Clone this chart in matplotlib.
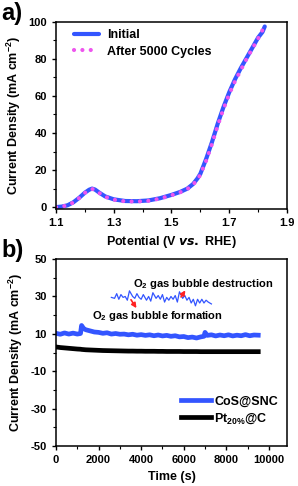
import matplotlib
matplotlib.use("Agg")
import matplotlib.pyplot as plt

plt.rcParams['font.family'] = ['Liberation Sans', 'DejaVu Sans']
plt.rcParams['font.weight'] = 'bold'
plt.rcParams['mathtext.default'] = 'regular'

# panel a: LSV curves
potential = [1.10, 1.12, 1.14, 1.16, 1.18, 1.20, 1.215, 1.225, 1.235, 1.25, 1.27, 1.30,
             1.34, 1.38, 1.42, 1.46, 1.50, 1.53, 1.555, 1.575, 1.59, 1.60, 1.62, 1.64,
             1.66, 1.68, 1.70, 1.72, 1.74, 1.76, 1.78, 1.80, 1.815, 1.823]
initial = [0.0, 0.3, 1.0, 2.6, 5.0, 7.8, 9.4, 10.0, 9.5, 7.8, 5.8, 4.2,
           3.3, 3.2, 3.6, 4.8, 6.6, 8.2, 10.0, 12.5, 15.5, 18.0, 26.0, 35.0,
           45.0, 54.0, 62.0, 69.0, 75.0, 80.5, 86.0, 91.5, 94.5, 97.5]
after_5000 = [0.0, 0.3, 1.0, 2.5, 4.9, 7.7, 9.2, 9.8, 9.3, 7.6, 5.6, 4.0,
              3.1, 3.0, 3.4, 4.6, 6.4, 8.0, 9.8, 12.2, 15.0, 17.5, 25.0, 34.0,
              44.0, 53.0, 61.0, 68.0, 74.0, 80.0, 85.5, 91.0, 95.5, 96.5]

# panel b: chronoamperometry
time_s = [0, 200, 400, 600, 800, 1000, 1150, 1200, 1300, 1400, 1600, 1800, 2000,
          2200, 2400, 2600, 2800, 3000, 3200, 3400, 3600, 3800, 4000, 4200, 4400,
          4600, 4800, 5000, 5200, 5400, 5600, 5800, 6000, 6200, 6400, 6600, 6800,
          6950, 7000, 7100, 7300, 7500, 7700, 7900, 8100, 8300, 8500, 8700, 8900,
          9100, 9300, 9500]
cos_snc = [10.3, 9.8, 10.5, 9.9, 10.4, 9.9, 10.2, 14.5, 12.8, 12.2, 11.6, 11.0, 10.8,
           10.3, 10.6, 9.9, 10.2, 9.8, 9.9, 9.5, 9.8, 9.3, 9.6, 9.2, 9.5,
           9.0, 9.4, 8.9, 9.2, 8.7, 9.0, 8.4, 8.6, 8.0, 8.3, 7.8, 8.4,
           8.7, 10.8, 9.2, 9.5, 8.9, 9.4, 9.0, 9.5, 8.9, 9.3, 9.0, 9.6,
           9.0, 9.4, 9.3]
pt_c = [3.0, 2.7, 2.5, 2.3, 2.1, 1.9, 1.8, 1.7, 1.6, 1.5, 1.4, 1.3, 1.2,
        1.1, 1.05, 1.0, 0.95, 0.9, 0.85, 0.8, 0.8, 0.75, 0.75, 0.7, 0.7,
        0.7, 0.65, 0.65, 0.6, 0.6, 0.6, 0.6, 0.55, 0.55, 0.55, 0.55, 0.5,
        0.5, 0.5, 0.5, 0.5, 0.5, 0.5, 0.5, 0.5, 0.5, 0.5, 0.5, 0.5,
        0.5, 0.5, 0.5]

# zoomed trace drawn inside panel b
zoom_x = [2600, 2750, 2850, 2950, 3050, 3150, 3250, 3350, 3450, 3600, 3700, 3800,
          3900, 4000, 4100, 4250, 4350, 4450, 4550, 4700, 4800, 4900, 5000, 5100,
          5200, 5300, 5400, 5500, 5600, 5700, 5800, 5950, 6050, 6150, 6250, 6350,
          6450, 6550, 6650, 6750, 6850, 6950, 7050, 7150, 7300]
zoom_y = [29.5, 29.0, 31.5, 28.5, 31.0, 29.5, 30.0, 28.0, 33.0, 30.0, 29.0, 31.5,
          29.5, 28.5, 31.0, 28.0, 30.0, 27.5, 32.0, 29.0, 30.5, 28.5, 31.0, 27.0,
          29.5, 28.0, 30.0, 28.5, 30.5, 27.0, 32.5, 29.0, 30.5, 28.0, 29.5, 26.5,
          28.5, 25.0, 28.5, 26.5, 28.5, 26.5, 28.0, 27.0, 26.0]

blue = '#3355ff'
magenta = '#ee55ee'

fig = plt.figure(figsize=(2.98, 4.86), dpi=100)
ax1 = fig.add_axes([0.188, 0.570, 0.775, 0.385])
ax2 = fig.add_axes([0.188, 0.082, 0.775, 0.385])

for ax in (ax1, ax2):
    for s in ax.spines.values():
        s.set_linewidth(1.1)
    ax.tick_params(labelsize=8, width=1.0, length=3)
    ax.tick_params(which='minor', width=0.8, length=2)

# ---- panel a
ax1.plot(potential, initial, color=blue, lw=3.0, label='Initial', solid_capstyle='round')
ax1.plot(potential, after_5000, color=magenta, lw=3.0, ls=(0, (0.01, 2.0)),
         dash_capstyle='round', label='After 5000 Cycles')
ax1.set_xlim(1.1, 1.9)
ax1.set_ylim(-1, 100)
ax1.set_xticks([1.1, 1.3, 1.5, 1.7, 1.9])
ax1.set_xticks([1.2, 1.4, 1.6, 1.8], minor=True)
ax1.set_yticks([0, 20, 40, 60, 80, 100])
ax1.set_yticks([10, 30, 50, 70, 90], minor=True)
ax1.set_xticklabels(['1.1', '1.3', '1.5', '1.7', '1.9'], fontweight='bold')
ax1.set_yticklabels(['0', '20', '40', '60', '80', '100'], fontweight='bold')
ax1.set_xlabel('Potential (V $\\it{vs.}$ RHE)', fontsize=9, fontweight='bold')
ax1.set_ylabel('Current Density (mA cm$^{-2}$)', fontsize=9, fontweight='bold', labelpad=4)
ax1.legend(loc='upper left', bbox_to_anchor=(0.03, 1.02), frameon=False,
           prop={'size': 9, 'weight': 'bold'}, handlelength=2.0, handletextpad=0.6,
           labelspacing=0.35)

# ---- panel b
ax2.plot(time_s, cos_snc, color=blue, lw=3.4, label='CoS@SNC')
ax2.plot(time_s, pt_c, color='black', lw=3.4, label='Pt$_{20\\%}$@C')
ax2.plot(zoom_x, zoom_y, color=blue, lw=0.9)
ax2.annotate('', xy=(3850, 22.5), xytext=(3450, 29.5),
             arrowprops=dict(arrowstyle='-|>', color='#ff2222', lw=1.2, mutation_scale=7))
ax2.annotate('', xy=(6150, 34.5), xytext=(5800, 28.5),
             arrowprops=dict(arrowstyle='-|>', color='#ff2222', lw=1.2, mutation_scale=7))
ax2.text(3600, 36.5, 'O$_2$ gas bubble destruction', fontsize=8, fontweight='bold',
         va='center')
ax2.text(1700, 19.5, 'O$_2$ gas bubble formation', fontsize=8, fontweight='bold',
         va='center')
ax2.set_xlim(0, 10850)
ax2.set_ylim(-50, 50)
ax2.set_xticks([0, 2000, 4000, 6000, 8000, 10000])
ax2.set_xticks([1000, 3000, 5000, 7000, 9000], minor=True)
ax2.set_yticks([-50, -30, -10, 10, 30, 50])
ax2.set_yticks([-40, -20, 0, 20, 40], minor=True)
ax2.set_xticklabels(['0', '2000', '4000', '6000', '8000', '10000'], fontweight='bold')
ax2.set_yticklabels(['-50', '-30', '-10', '10', '30', '50'], fontweight='bold')
ax2.set_xlabel('Time (s)', fontsize=9, fontweight='bold')
ax2.set_ylabel('Current Density (mA cm$^{-2}$)', fontsize=9, fontweight='bold', labelpad=4)
ax2.legend(loc='lower right', bbox_to_anchor=(1.01, 0.05), frameon=False,
           prop={'size': 9, 'weight': 'bold'}, handlelength=2.4, handletextpad=0.3,
           labelspacing=0.3)

fig.text(0.005, 0.995, 'a)', fontsize=17, fontweight='bold', va='top', ha='left')
fig.text(0.005, 0.508, 'b)', fontsize=17, fontweight='bold', va='top', ha='left')

fig.savefig('out.png', dpi=100)
